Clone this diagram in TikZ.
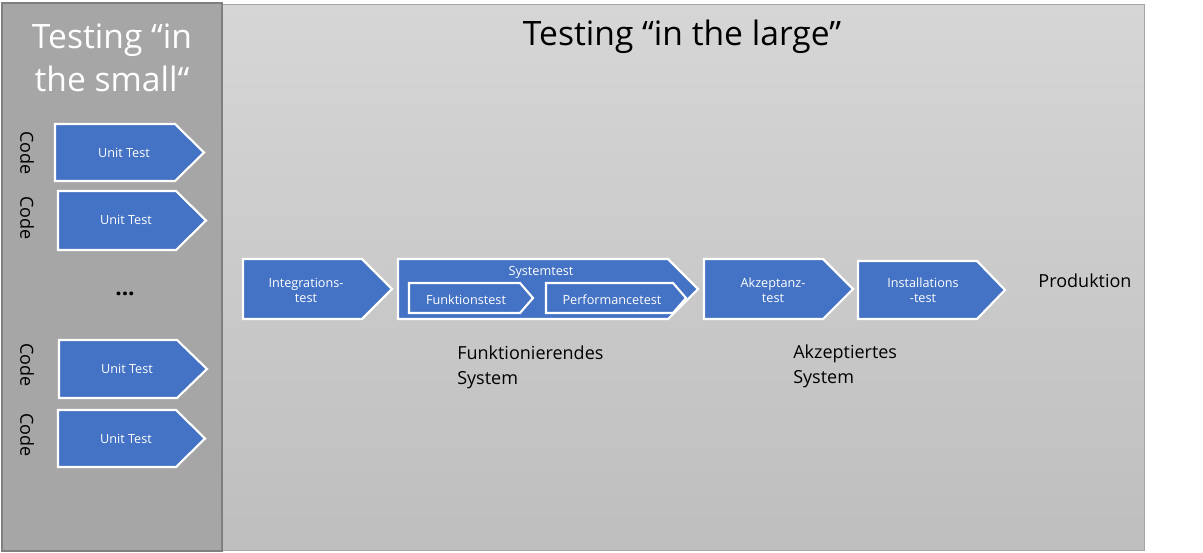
\documentclass[tikz,border=0pt]{standalone}
\usepackage{fontspec}
\setmainfont{Open Sans}
\definecolor{chevblue}{HTML}{4472C4}
\definecolor{panelgray}{HTML}{A6A6A6}
\definecolor{paneledge}{HTML}{7F7F7F}
\definecolor{bigtop}{HTML}{D6D6D6}
\definecolor{bigbot}{HTML}{BEBEBE}
\definecolor{bigedge}{HTML}{A5A5A5}
\begin{document}
\begin{tikzpicture}[x=0.75pt,y=-0.75pt,
  chevshape/.style={fill=chevblue, draw=white, line width=1.6pt, line join=miter},
  chevtext/.style={text=white, font=\fontsize{9.5pt}{11.25pt}\selectfont, align=center, inner sep=0pt},
  codelabel/.style={rotate=-90, font=\fontsize{13.5pt}{14pt}\selectfont, inner sep=0pt},
  bigtitle/.style={font=\fontsize{25.2pt}{32pt}\selectfont, inner sep=0pt, align=center},
  plaintext/.style={font=\fontsize{13.5pt}{18.75pt}\selectfont, inner sep=0pt, align=left}
]
\useasboundingbox (0,0) rectangle (1203,553);
\fill[white] (0,0) rectangle (1203,553);
% big panel
\shade[top color=bigtop, bottom color=bigbot, draw=bigedge, line width=0.75pt] (4,4) rectangle (1144,550);
% left panel
\fill[panelgray, draw=paneledge, line width=1.5pt] (2,3) rectangle (222,551);

% titles
\node[bigtitle, text=white] (small) at (112,58) {Testing “in\\the small“};
\node[bigtitle] (large) at (682,37) {Testing “in the large”};

% chevron macro: left, top, bottom, corner x, tip x
\newcommand{\chevron}[5]{\path[chevshape] (#1,#2) -- (#4,#2) -- (#5,{(#2+#3)/2}) -- (#4,#3) -- (#1,#3) -- cycle;}

% unit tests
\chevron{55}{124}{181}{175}{204}
\node[chevtext] (u1) at (124,153) {Unit Test};
\chevron{58}{191}{250}{176}{206}
\node[chevtext] (u2) at (126,220) {Unit Test};
\chevron{59}{340}{398}{177}{207}
\node[chevtext] (u3) at (127,369) {Unit Test};
\chevron{58}{410}{467}{176}{205}
\node[chevtext] (u4) at (126,439) {Unit Test};

\node[codelabel] (c1) at (27,153) {Code};
\node[codelabel] (c2) at (27,218) {Code};
\node[codelabel] (c3) at (27,365) {Code};
\node[codelabel] (c4) at (27,435) {Code};

\node[font=\fontsize{17pt}{18pt}\selectfont\bfseries, inner sep=0pt] (dots) at (125,294) {...};

% integration test
\chevron{243}{259}{319}{362}{392}
\node[chevtext] (integ) at (306,290) {Integrations-\\test};
% system test
\chevron{398}{259}{319}{668}{698}
\node[chevtext] (sys) at (541,272) {Systemtest};
\chevron{409}{283}{313}{520}{533}
\node[chevtext] (funk) at (466,300) {Funktionstest};
\chevron{546}{283}{313}{673}{686}
\node[chevtext] (perf) at (612,300) {Performancetest};
% acceptance
\chevron{704}{259}{319}{823}{853}
\node[chevtext] (akz) at (773,290) {Akzeptanz-\\test};
% installation
\chevron{858}{261}{319}{977}{1005}
\node[chevtext] (inst) at (923,290) {Installations\\-test};

\node[font=\fontsize{13.5pt}{14pt}\selectfont, inner sep=0pt] (prod) at (1085,281) {Produktion};

\node[plaintext, anchor=west] (fsys) at (457,367) {Funktionierendes\\System};
\node[plaintext, anchor=west] (asys) at (793,366) {Akzeptiertes\\System};
\end{tikzpicture}
\end{document}
